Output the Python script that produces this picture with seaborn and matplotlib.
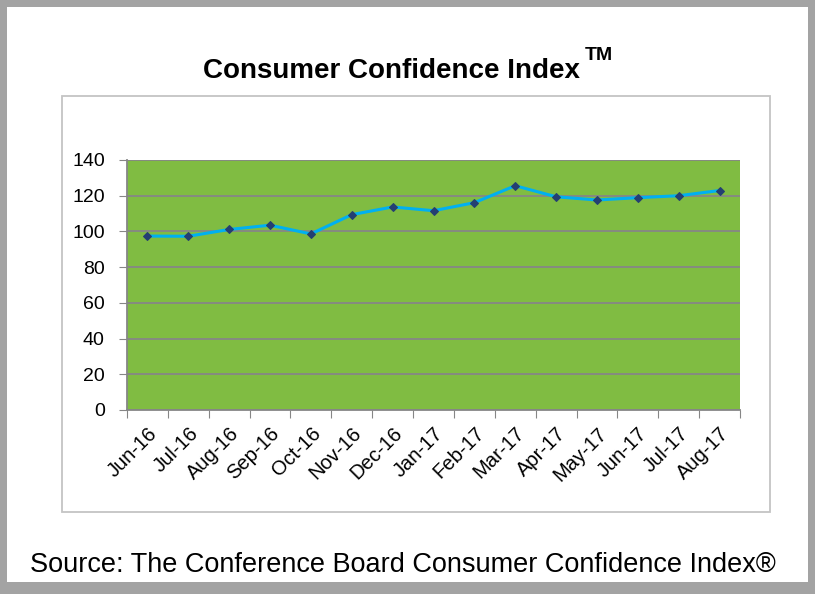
import numpy as np
import pandas as pd
import matplotlib
matplotlib.use("Agg")
import matplotlib.pyplot as plt
import seaborn as sns
from matplotlib.patches import Rectangle

# data
months = ["Jun-16", "Jul-16", "Aug-16", "Sep-16", "Oct-16", "Nov-16", "Dec-16", "Jan-17",
          "Feb-17", "Mar-17", "Apr-17", "May-17", "Jun-17", "Jul-17", "Aug-17"]
cci = [97.4, 97.3, 101.1, 103.5, 98.6, 109.4, 113.7, 111.6,
       116.1, 125.6, 119.4, 117.6, 118.9, 120.0, 122.9]
y_ticks = [0, 20, 40, 60, 80, 100, 120, 140]

df = pd.DataFrame({"month": months, "cci": cci})

sns.set_style("white")
plt.rcParams["font.family"] = ["Liberation Sans", "DejaVu Sans"]
plt.rcParams["text.color"] = "black"

W, H = 815, 594
fig = plt.figure(figsize=(W / 100, H / 100), dpi=100)
fig.patch.set_facecolor("#a3a3a3")

def px_rect(x0, y0, x1, y1, **kw):
    # rectangle in pixel coords (origin top-left)
    return Rectangle((x0 / W, 1 - y1 / H), (x1 - x0) / W, (y1 - y0) / H,
                     transform=fig.transFigure, **kw)

fig.add_artist(px_rect(7, 7, 808, 582, facecolor="white", edgecolor="none", zorder=-2))
fig.add_artist(px_rect(62, 96, 770, 512, facecolor="white", edgecolor="#c4c4c4",
                       linewidth=1.3, zorder=-1))

ax = fig.add_axes([127 / W, 1 - 410 / H, (740 - 127) / W, (410 - 160) / H])
ax.set_facecolor("#80bc42")

sns.lineplot(data=df, x="month", y="cci", ax=ax, color="#00b0f0", linewidth=2.2,
             marker="D", markersize=4, markerfacecolor="#243f72",
             markeredgecolor="#243f72", sort=False)

n = len(months)
ax.set_xlim(-0.5, n - 0.5)
ax.set_ylim(0, 140)
ax.set_yticks(y_ticks)
ax.set_yticklabels([str(v) for v in y_ticks], fontsize=14)

ax.set_xticks(np.arange(n + 1) - 0.5)
ax.set_xticklabels([])
ax.set_xticks(np.arange(n), minor=True)
ax.set_xticklabels(months, minor=True, rotation=45, ha="right", va="top",
                   rotation_mode="anchor", fontsize=14.5)
ax.tick_params(axis="x", which="major", direction="out", length=6, color="#868686",
               bottom=True)
ax.tick_params(axis="x", which="minor", length=0, pad=10, bottom=True, labelcolor="black")
ax.tick_params(axis="y", direction="out", length=6, color="#868686", left=True, pad=10,
               labelcolor="black")

ax.yaxis.grid(True, color="#868686", linewidth=1.3)
ax.set_axisbelow(True)
for s in ["top", "right"]:
    ax.spines[s].set_visible(False)
for s in ["left", "bottom"]:
    ax.spines[s].set_color("#868686")
    ax.spines[s].set_linewidth(1.3)
ax.set_xlabel("")
ax.set_ylabel("")

fig.text(391 / W, 1 - 78 / H, "Consumer Confidence Index", ha="center", va="baseline",
         fontsize=20, fontweight="bold", color="black")
fig.text(585 / W, 1 - 60 / H, "TM", ha="left", va="baseline",
         fontsize=14, fontweight="bold", color="black")
fig.text(403 / W, 1 - 572 / H, "Source: The Conference Board Consumer Confidence Index\u00ae",
         ha="center", va="baseline", fontsize=19.5, color="black")

fig.savefig("out.png", dpi=100, facecolor=fig.get_facecolor())
